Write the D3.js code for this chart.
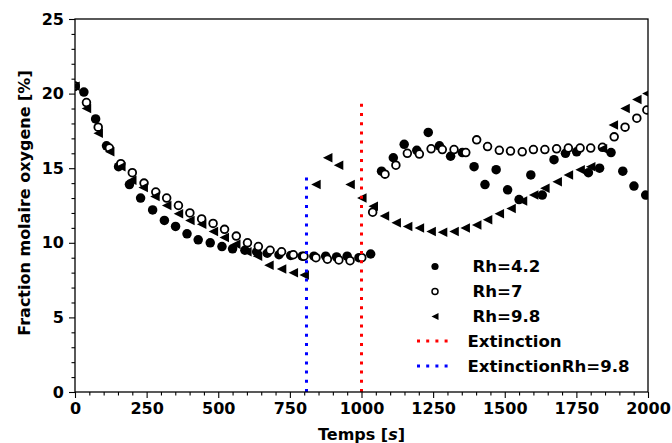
<!DOCTYPE html>
<html><head><meta charset="utf-8">
<script src="https://cdn.jsdelivr.net/npm/d3@7"></script>
<style>
html,body{margin:0;padding:0;background:#fff;}
svg{display:block;font-family:"DejaVu Sans",sans-serif;font-weight:bold;}
</style></head>
<body><svg id="c" width="672" height="443"></svg>
<script>
// ---- data ----
const tRh42 = [0,31,72,110,152,190,229,271,312,351,391,430,472,513,550,593,634,671,712,753,793,834,875,913,950,991,1032,1070,1111,1149,1193,1233,1272,1311,1352,1393,1431,1470,1510,1550,1591,1631,1672,1712,1751,1792,1831,1871,1912,1951,1992];
const yRh42 = [20.5,20.1,18.3,16.5,15.1,13.9,13.0,12.2,11.5,11.1,10.6,10.2,10.0,9.75,9.6,9.5,9.4,9.3,9.2,9.15,9.1,9.1,9.1,9.05,9.1,9.0,9.25,14.8,15.7,16.6,16.2,17.4,16.5,15.8,16.05,15.1,13.9,14.9,13.55,12.9,14.55,13.2,15.57,16.0,16.1,14.7,15.0,16.05,14.8,13.8,13.2];
const tRh7 = [0,40,81,120,160,200,241,282,320,361,401,442,482,522,563,602,640,681,721,762,799,841,881,921,960,1001,1039,1082,1120,1160,1202,1243,1282,1323,1364,1402,1440,1481,1520,1561,1600,1640,1681,1722,1763,1800,1841,1882,1920,1961,1996];
const yRh7 = [20.5,19.4,17.75,16.35,15.3,14.7,14.0,13.4,13.0,12.5,12.0,11.6,11.3,10.9,10.45,10.0,9.75,9.5,9.4,9.2,9.1,9.0,8.9,8.85,8.8,9.0,12.05,14.6,15.2,16.0,15.95,16.3,16.25,16.25,16.05,16.9,16.45,16.2,16.15,16.1,16.25,16.25,16.3,16.35,16.35,16.35,16.4,17.1,17.75,18.35,18.9];
const tRh98 = [0,40,81,121,160,198,238,279,320,361,401,442,483,521,561,600,637,677,721,762,800,841,882,920,960,1001,1041,1080,1121,1161,1202,1243,1283,1323,1362,1402,1440,1481,1522,1562,1601,1640,1683,1722,1763,1800,1841,1879,1920,1961,1996];
const yRh98 = [20.5,19.0,17.35,16.1,15.1,14.2,13.7,13.1,12.5,11.95,11.5,11.25,10.75,10.35,9.9,9.4,9.1,8.5,8.25,8.0,7.85,13.9,15.7,15.2,13.9,13.0,12.45,11.8,11.35,11.1,11.0,10.75,10.7,10.75,11.0,11.2,11.55,11.95,12.3,12.8,13.2,13.65,14.1,14.55,14.9,15.1,16.3,17.9,19.0,19.6,20.0];
const extinctionT = 1000, extinctionTop = 19.7;
const extinctionRh98T = 808, extinctionRh98Top = 14.8;
const xTicks = [0,250,500,750,1000,1250,1500,1750,2000];
const yTicks = [0,5,10,15,20,25];
const legendLabels = [" Rh=4.2"," Rh=7"," Rh=9.8","Extinction","ExtinctionRh=9.8"];

// ---- layout ----
const svg = d3.select("#c");
const L = 75, R = 648, T = 19, B = 392;
const x = d3.scaleLinear().domain([0,2000]).range([L,R]);
const y = d3.scaleLinear().domain([0,25]).range([B,T]);

svg.append("defs").append("clipPath").attr("id","clip")
  .append("rect").attr("x",L).attr("y",T).attr("width",R-L).attr("height",B-T);

const plot = svg.append("g").attr("clip-path","url(#clip)");
const zip = (ts,ys)=>ts.map((t,i)=>({t:t,v:ys[i]}));

const ms = 9.5;
const tri = d3.symbol().type({draw(ctx,size){const s=Math.sqrt(size)/2;ctx.moveTo(-s,0);ctx.lineTo(s,-s);ctx.lineTo(s,s);ctx.closePath();}});

plot.selectAll(".f").data(zip(tRh42,yRh42)).join("circle")
  .attr("cx",d=>x(d.t)).attr("cy",d=>y(d.v)).attr("r",ms/2).attr("fill","#000");
plot.selectAll(".o").data(zip(tRh7,yRh7)).join("circle")
  .attr("cx",d=>x(d.t)).attr("cy",d=>y(d.v)).attr("r",ms/2-0.9)
  .attr("fill","#fff").attr("stroke","#000").attr("stroke-width",1.8);
plot.selectAll(".tr").data(zip(tRh98,yRh98)).join("path")
  .attr("d",tri.size(ms*ms)).attr("transform",d=>`translate(${x(d.t)},${y(d.v)})`).attr("fill","#000");

// vertical extinction lines
const dash = "3,6.2";
plot.append("line").attr("x1",x(extinctionT)).attr("x2",x(extinctionT))
  .attr("y1",y(0)).attr("y2",y(extinctionTop))
  .attr("stroke","#ff0000").attr("stroke-width",3).attr("stroke-dasharray",dash);
plot.append("line").attr("x1",x(extinctionRh98T)).attr("x2",x(extinctionRh98T))
  .attr("y1",y(0)).attr("y2",y(extinctionRh98Top))
  .attr("stroke","#0000ff").attr("stroke-width",3).attr("stroke-dasharray",dash);

// axes
const xMinor = d3.range(0,2001,50).filter(v=>v%250!==0);
const yMinor = d3.range(0,26,1).filter(v=>v%5!==0);
const gx = svg.append("g").attr("transform",`translate(0,${B})`);
gx.call(d3.axisBottom(x).tickValues(xTicks).tickSize(6).tickPadding(4).tickFormat(d3.format("d")));
const gxm = svg.append("g").attr("transform",`translate(0,${B})`);
gxm.call(d3.axisBottom(x).tickValues(xMinor).tickSize(3.5).tickFormat(""));
const gy = svg.append("g").attr("transform",`translate(${L},0)`);
gy.call(d3.axisLeft(y).tickValues(yTicks).tickSize(6).tickPadding(5).tickFormat(d3.format("d")));
const gym = svg.append("g").attr("transform",`translate(${L},0)`);
gym.call(d3.axisLeft(y).tickValues(yMinor).tickSize(3.5).tickFormat(""));
[gx,gxm,gy,gym].forEach(g=>{
  g.select(".domain").remove();
  g.selectAll(".tick line").attr("stroke","#000").attr("stroke-width",1.1);
  g.selectAll("text").attr("fill","#000").style("font-size","16px").style("font-weight","bold").style("font-family","DejaVu Sans");
});
gx.selectAll("text").attr("dy","0.72em");

svg.append("rect").attr("x",L).attr("y",T).attr("width",R-L).attr("height",B-T)
  .attr("fill","none").attr("stroke","#000").attr("stroke-width",1.3);

// axis labels
const xl = svg.append("text").attr("x",(L+R)/2).attr("y",440).attr("text-anchor","middle")
  .style("font-size","16px");
xl.append("tspan").text("Temps [");
xl.append("tspan").style("font-style","italic").text("s");
xl.append("tspan").text("]");
svg.append("text").attr("transform",`translate(30,203) rotate(-90)`)
  .attr("text-anchor","middle").style("font-size","16px").text("Fraction molaire oxygene [%]");

// legend
const lg = svg.append("g");
const rows = [266.5,291.5,316.5,341,366];
lg.append("circle").attr("cx",435).attr("cy",rows[0]).attr("r",3.6).attr("fill","#000");
lg.append("circle").attr("cx",435).attr("cy",rows[1]).attr("r",3).attr("fill","#fff").attr("stroke","#000").attr("stroke-width",1.5);
lg.append("path").attr("d",tri.size(49)).attr("transform",`translate(435,${rows[2]})`).attr("fill","#000");
lg.append("line").attr("x1",417).attr("x2",450).attr("y1",rows[3]).attr("y2",rows[3])
  .attr("stroke","#ff0000").attr("stroke-width",3).attr("stroke-dasharray",dash);
lg.append("line").attr("x1",417).attr("x2",450).attr("y1",rows[4]).attr("y2",rows[4])
  .attr("stroke","#0000ff").attr("stroke-width",3).attr("stroke-dasharray",dash);
legendLabels.forEach((s,i)=>{
  lg.append("text").attr("x",i<3?472.5:467.5).attr("y",rows[i]).attr("dy","0.36em")
    .style("font-size","16.6px").text(s.trim());
});
</script></body></html>
